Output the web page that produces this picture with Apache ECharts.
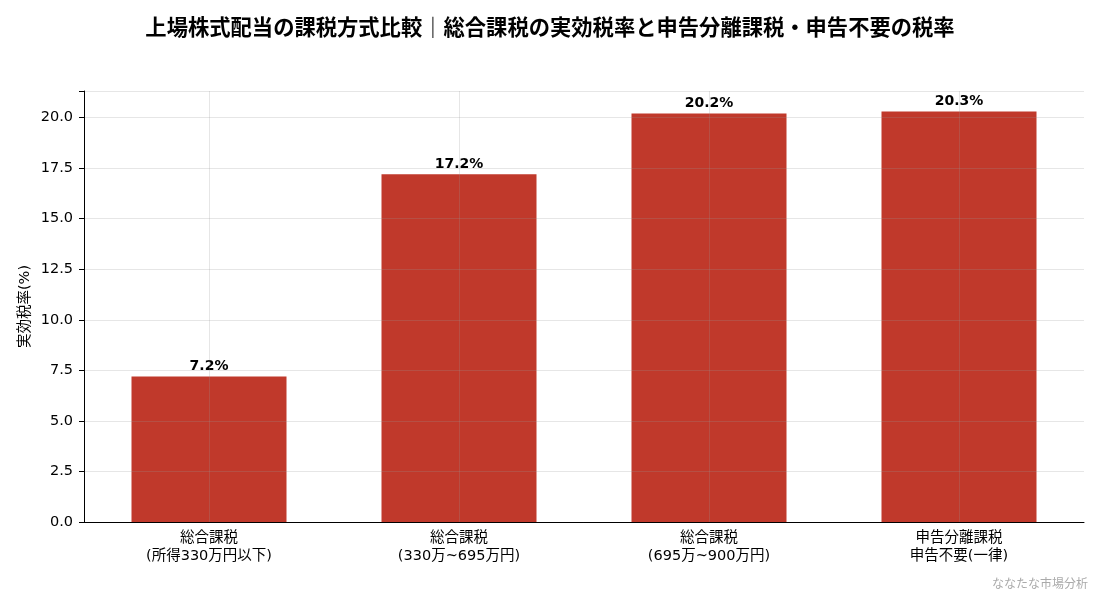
<!DOCTYPE html>
<html><head><meta charset="utf-8">
<script src="https://cdn.jsdelivr.net/npm/echarts@6/dist/echarts.min.js"></script>
<style>html,body{margin:0;padding:0;background:#fff}#c{width:1100px;height:594px}</style>
</head><body><div id="c"></div>
<script>
const categories = ['総合課税\n(所得330万円以下)', '総合課税\n(330万~695万円)', '総合課税\n(695万~900万円)', '申告分離課税\n申告不要(一律)'];
const rates = [7.2, 17.2, 20.2, 20.3];
const yTicks = [0, 2.5, 5, 7.5, 10, 12.5, 15, 17.5, 20];
const FONT = '"DejaVu Sans", "Noto Sans CJK JP", sans-serif';
const CJK = '"Noto Sans CJK JP", sans-serif';
const chart = echarts.init(document.getElementById('c'));
chart.setOption({
  backgroundColor: '#fff',
  animation: false,
  title: {
    text: '上場株式配当の課税方式比較｜総合課税の実効税率と申告分離課税・申告不要の税率',
    left: 'center', top: 11,
    textStyle: {fontFamily: CJK, fontSize: 21.3, fontWeight: 'bold', color: '#000'}
  },
  graphic: [{
    type: 'text', right: 12, bottom: 5,
    style: {text: 'ななたな市場分析', fill: '#aaa', font: '12px ' + CJK}
  }],
  grid: {left: 84, right: 16, top: 91, bottom: 72},
  xAxis: {
    type: 'category', data: categories, z: 5,
    axisLine: {lineStyle: {color: '#000', width: 1}},
    axisTick: {alignWithLabel: true, length: 4, lineStyle: {color: '#000'}},
    axisLabel: {fontFamily: FONT, fontSize: 14.5, color: '#000', lineHeight: 18, margin: 7},
    splitLine: {show: true, alignWithLabel: true, lineStyle: {color: 'rgba(150,150,150,0.3)', width: 0.8}}
  },
  yAxis: {
    type: 'value', min: 0, max: 21.315, interval: 2.5, z: 5,
    name: '実効税率(%)', nameLocation: 'middle', nameGap: 52, nameRotate: 90, nameMoveOverlap: false,
    nameTextStyle: {fontFamily: FONT, fontSize: 14.5, color: '#000'},
    axisLine: {show: true, lineStyle: {color: '#000', width: 1}},
    axisTick: {show: true, length: 5, lineStyle: {color: '#000'}},
    axisLabel: {fontFamily: FONT, fontSize: 14.5, color: '#000', margin: 11,
      formatter: v => yTicks.includes(v) ? v.toFixed(1) : ''},
    splitLine: {show: true, lineStyle: {color: 'rgba(150,150,150,0.3)', width: 0.8}}
  },
  series: [{
    type: 'bar', data: rates, barWidth: '62%', z: 2,
    itemStyle: {color: '#c0392b'},
    label: {show: true, position: 'top', distance: 3, formatter: p => p.value.toFixed(1) + '%',
      fontFamily: FONT, fontSize: 14, fontWeight: 'bold', color: '#000'}
  }]
});
</script></body></html>
